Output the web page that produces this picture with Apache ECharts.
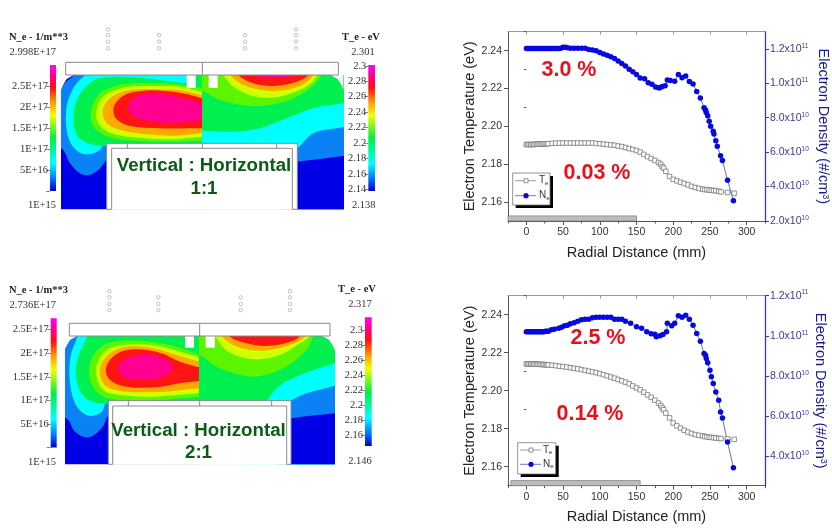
<!DOCTYPE html>
<html><head><meta charset="utf-8">
<style>html,body{margin:0;padding:0;background:#fff}#c{width:832px;height:531px}</style>
<script src="https://cdn.jsdelivr.net/npm/echarts@6/dist/echarts.min.js"></script>
</head><body><div id="c"></div>
<script>
// ---------- radial profile data (Ne in units of 1e10 /cm3) ----------
const xTicks=[0,50,100,150,200,250,300];
const xMinor=[-25,25,75,125,175,225,275,325];
const teTicks=[2.16,2.18,2.20,2.22,2.24];
const teMinor=[2.15,2.17,2.19,2.21,2.23,2.25];
const ne1Ticks=[20,40,60,80,100,120];
const ne2Ticks=[40,60,80,100,120];

const te1R=[0,2,4,6,8,10,12,14,16,18,20,22,24,26,28,30,35,40,45,50,55,60,65,70,75,80,85,90,95,100,105,110,115,120,125,130,135,140,145,150,155,160,165,170,175,180,183,185,187,190,195,200,205,210,215,220,225,230,235,240,243,246,249,252,255,258,262,265,274,283];
const te1V=[2.1904,2.1904,2.1904,2.1904,2.1904,2.1904,2.1906,2.1906,2.1906,2.1906,2.1906,2.1908,2.1908,2.1908,2.1908,2.1908,2.191,2.1911,2.1912,2.1912,2.1912,2.1912,2.1912,2.1912,2.1912,2.1912,2.1912,2.1912,2.191,2.1908,2.1906,2.1904,2.1902,2.19,2.1896,2.1893,2.1888,2.1883,2.1878,2.1872,2.1864,2.1852,2.184,2.183,2.182,2.1809,2.18,2.1787,2.1779,2.1762,2.1735,2.172,2.1712,2.1705,2.1698,2.1691,2.1683,2.1677,2.1672,2.1668,2.1666,2.1665,2.1664,2.1662,2.1661,2.166,2.1657,2.1654,2.1651,2.1647];
const ne1R=[0,2,4,6,8,10,12,14,16,18,20,22,24,26,28,30,32,34,36,38,40,42,44,47,50,53,56,60,65,70,75,80,85,90,95,100,105,110,115,120,125,130,135,140,145,150,155,161,166,171,176,180,182,185,189,192,196,202,207,212,217,222,227,232,237,242,244,245,247,249,251,254.5,255.5,258,260,264.5,267,274,282];
const ne1V=[120.2,120.2,120.2,120.2,120.2,120.2,120.2,120.2,120.2,120.2,120.2,120.2,120.2,120.2,120.2,120.2,120.2,120.2,120.2,120.2,120.2,120.2,120.2,120.4,121,121,120.7,120.4,120.4,120.4,120.4,120.4,119.6,119.4,118.9,117.9,117.1,116.3,115.5,114.4,113,111.5,110,108.2,106.8,105.2,103.1,102.7,100.4,99.4,97.9,97.5,97.5,98.1,98.6,101.9,101.6,101.2,105.2,103.3,104.3,101,99.6,95.3,91.5,85.8,84.5,83.1,81.2,78,75.1,72.2,70.5,66.6,63.5,57.9,55.1,43.7,31.8];

const te2R=[0,2,4,6,8,10,12,14,16,18,20,22,24,26,28,30,35,40,45,50,55,60,65,70,75,80,85,90,95,100,105,110,115,120,125,130,135,140,145,150,155,160,165,170,175,180,183,185,187,190,195,200,205,210,215,220,225,230,235,240,243,246,249,252,255,258,262,265,274,283];
const te2V=[2.2141,2.2141,2.2141,2.2141,2.214,2.214,2.214,2.2139,2.2139,2.2139,2.2138,2.2138,2.2137,2.2137,2.2136,2.2136,2.2134,2.2132,2.2129,2.2127,2.2124,2.2121,2.2118,2.2115,2.2111,2.2107,2.2103,2.2099,2.2095,2.209,2.2084,2.2078,2.2072,2.2066,2.2059,2.2052,2.2045,2.2036,2.2025,2.2015,2.2005,2.1992,2.1978,2.1965,2.195,2.1935,2.1922,2.191,2.19,2.1882,2.1857,2.183,2.1815,2.1803,2.1792,2.1782,2.1775,2.1769,2.1765,2.1762,2.1759,2.1757,2.1755,2.1754,2.1753,2.1751,2.1749,2.1748,2.1746,2.1744];
const ne2R=[0,2,4,6,8,10,12,14,16,18,20,22,24,26,28,30,34,38,44,48,52,56,60,65,70,75,80,85,90,95,100,105,110,115,120,125,130,135,142,150,157,164,170,175,177,182,186,191,192,198,202,207,212,217,222,227,232,237,242,244,245,247,250,252,254.5,258,262,264.5,267,274,282];
const ne2V=[102,102,102,102,102,102,102,102,102,102,102,102,102,102.3,102.3,102.3,103,103.3,103.7,104.3,105,105.3,106,106.5,107.3,108,108.2,108.2,109,109.2,109.2,109.2,109.2,109.2,108.3,108.2,108.2,107.2,106.2,104.5,103.7,102,101,100.8,99.5,100,100.7,102,106.2,105,106.2,110,109.3,110.3,108.2,105.3,101.2,97.3,91.2,90.3,88.7,86.5,82.8,79.5,76.2,72,67.8,62,59,47,34.2];
const heldMark1=[[12,2.1906]];
const heldMark2=[[12,2.214]];
const bar1=[[-25,150]];
const bar2=[[-21,155]];

// ---------- contour polygons, in the panel's own axis units ----------
const palette={navy:'#0000E6',azure:'#0A82F5',cyan:'#00FFFF',green:'#00F050',lime:'#5CF500',yellow:'#D2FF00',orange:'#FFA800',red:'#FF1414',pink:'#FF0090'};

const p1Left=[
 ['azure',[[190,150],[155,172],[130,195],[110,230],[100,370],[130,390],[150,430],[180,460],[205,466],[235,450],[255,425],[280,400],[620,380],[620,140]]],
 ['cyan',[[230,150],[190,170],[160,205],[140,260],[140,330],[155,375],[180,398],[205,403],[235,393],[265,365],[620,385],[620,180],[520,175],[500,140]]],
 ['green',[[260,172],[215,185],[175,230],[160,290],[170,345],[205,370],[270,380],[620,400],[620,140],[530,140],[510,185],[420,180],[340,172]]],
 ['lime',[[620,215],[547,205],[490,195],[420,190],[340,190],[280,200],[240,220],[218,255],[212,290],[225,325],[265,350],[340,362],[450,365],[547,362],[620,360]]],
 ['yellow',[[620,225],[547,215],[480,200],[400,198],[330,200],[280,212],[245,235],[230,270],[235,310],[270,338],[340,352],[450,358],[547,350],[620,348]]],
 ['orange',[[620,232],[547,225],[490,212],[420,208],[350,208],[295,220],[260,245],[248,275],[260,310],[300,330],[380,343],[470,347],[547,340],[620,338]]],
 ['red',[[620,250],[547,235],[500,222],[440,213],[370,212],[320,222],[290,245],[280,270],[290,298],[330,318],[420,325],[547,325],[620,325]]],
 ['pink',[[620,270],[547,250],[500,238],[450,225],[380,222],[340,235],[325,262],[335,285],[380,302],[450,308],[520,305],[547,300],[620,295]]]
];
const p1Right=[
 ['cyan',[[500,330],[547,332],[650,335],[720,325],[800,295],[880,265],[968,250],[1010,240],[1010,600],[500,600]]],
 ['azure',[[800,400],[832,385],[880,340],[968,322],[1010,315],[1010,600],[800,600]]],
 ['navy',[[800,430],[832,425],[968,408],[1010,400],[1010,600],[800,600]]],
 ['lime',[[500,200],[547,212],[600,240],[700,258],[800,243],[870,205],[905,165],[920,130],[500,120]]],
 ['yellow',[[590,130],[610,165],[640,200],[700,228],[770,232],[850,205],[890,170],[900,130]]],
 ['orange',[[610,130],[630,165],[670,195],[740,212],[820,205],[870,178],[890,130]]],
 ['red',[[640,130],[655,165],[700,190],[760,198],[830,185],[865,165],[875,130]]],
 ['pink',[[690,130],[700,165],[750,172],[810,168],[830,130]]]
];
const p2Left=[
 ['azure',[[100,385],[110,200],[150,180],[180,160],[620,140],[620,380],[285,385],[265,405],[245,445],[205,472],[165,455],[145,420]]],
 ['cyan',[[190,150],[165,190],[150,240],[150,310],[165,370],[190,400],[215,408],[245,395],[265,362],[620,380],[620,140]]],
 ['green',[[225,150],[185,205],[168,260],[175,320],[205,360],[265,372],[620,380],[620,140]]],
 ['lime',[[300,183],[250,195],[215,235],[208,285],[225,330],[265,355],[380,362],[539,350],[620,350],[620,250],[539,225],[470,200],[390,185]]],
 ['yellow',[[310,195],[260,210],[232,250],[230,290],[250,330],[300,345],[400,350],[539,340],[620,340],[620,250],[539,232],[480,215],[400,195]]],
 ['orange',[[320,200],[270,220],[245,250],[240,285],[260,320],[320,335],[430,335],[539,325],[620,325],[620,265],[539,245],[470,225],[400,205]]],
 ['red',[[340,208],[285,225],[258,265],[270,300],[320,320],[410,322],[480,310],[539,303],[620,300],[620,280],[539,262],[480,245],[420,218]]],
 ['pink',[[350,225],[310,240],[295,265],[310,290],[370,300],[430,290],[460,265],[440,240],[400,225]]]
];
const p2Right=[
 ['cyan',[[700,400],[740,362],[775,320],[830,290],[943,250],[1000,235],[1000,600],[700,600]]],
 ['azure',[[790,380],[813,362],[860,340],[943,318],[1000,305],[1000,600],[790,600]]],
 ['navy',[[790,420],[813,415],[943,400],[1000,395],[1000,600],[790,600]]],
 ['lime',[[480,200],[539,225],[600,265],[700,290],[790,265],[860,210],[880,168],[900,130],[480,120]]],
 ['yellow',[[570,130],[585,168],[625,215],[700,238],[780,225],[840,190],[870,168],[880,130]]],
 ['orange',[[590,130],[605,168],[650,200],[730,212],[810,195],[858,168],[870,130]]],
 ['red',[[615,130],[628,168],[680,190],[740,198],[810,185],[840,168],[850,130]]]
];
const p1Outline=[[62+63,165]];
const hw1={left:125,right:968,top:165,bottom:568,center:547,pedL:260,pedR:832,pedTop:370,pedIn:385,pedInL:275,pedInR:817,plateL:137,plateR:955,plateT:127,winA:[500,527],winB:[566,593],winBottom:204,ticks:[322,547,770],
 dots:[[264,28],[264,45],[264,65],[264,85],[417,45],[417,65],[417,85],[675,45],[675,65],[675,85],[828,28],[828,45],[828,65],[828,85]]};
const hw2={left:135,right:943,top:168,bottom:553,center:539,pedL:265,pedR:813,pedTop:362,pedIn:378,pedInL:278,pedInR:800,plateL:148,plateR:930,plateT:130,winA:[495,522],winB:[557,585],winBottom:203,ticks:[325,539,755],
 dots:[[268,33],[268,52],[268,72],[268,90],[415,52],[415,72],[415,90],[662,52],[662,72],[662,90],[810,33],[810,52],[810,72],[810,90]]};

const neBarTicks=[0.01,0.5,1,1.5,2,2.5];
const neBarLabels=['','5E+16','1E+17','1.5E+17','2E+17','2.5E+17'];
const teBar1Ticks=[2.14,2.16,2.18,2.2,2.22,2.24,2.26,2.28,2.3];
const teBar2Ticks=[2.16,2.18,2.2,2.22,2.24,2.26,2.28,2.3];

const SANS='"Liberation Sans",Arial,sans-serif', SERIF='"Liberation Serif",serif';
const AX='#555', RAX='#3A3AA0';
const grids=[],xAxes=[],yAxes=[],series=[],graphics=[];

function addGrid(l,t,w,h){grids.push({left:l,top:t,width:w,height:h,containLabel:false,show:false});return grids.length-1;}
function hiddenAxes(g,xr,yr){
  xAxes.push({gridIndex:g,type:'value',show:false,min:xr[0],max:xr[1]});
  yAxes.push({gridIndex:g,type:'value',show:false,inverse:true,min:yr[0],max:yr[1]});
  return [xAxes.length-1,yAxes.length-1];
}
function polyLayer(xi,yi,polys,base){
  series.push({type:'custom',xAxisIndex:xi,yAxisIndex:yi,clip:true,silent:true,data:polys.map((p,i)=>[i,i]),
    renderItem:(p,api)=>{const q=polys[p.dataIndex];
      return {type:'polygon',shape:{points:q[1].map(c=>api.coord(c)),smooth:q[2]===0?0:0.35},style:{fill:palette[q[0]]}};}});
}
function contour(ox,oy,hw,left,right,baseL,baseR){
  // left half
  let g=addGrid(ox+hw.left/3,oy+hw.top/3,(hw.center-hw.left)/3,(hw.bottom-hw.top)/3);
  let a=hiddenAxes(g,[hw.left,hw.center],[hw.top,hw.bottom]);
  polyLayer(a[0],a[1],[[baseL,[[0,0],[1200,0],[1200,700],[0,700]],0]].concat(left));
  // right half
  g=addGrid(ox+hw.center/3,oy+hw.top/3,(hw.right-hw.center)/3,(hw.bottom-hw.top)/3);
  a=hiddenAxes(g,[hw.center,hw.right],[hw.top,hw.bottom]);
  polyLayer(a[0],a[1],[[baseR,[[0,0],[1200,0],[1200,700],[0,700]],0]].concat(right));
  // masks and chamber hardware, over the whole panel
  g=addGrid(ox,oy,370,200);
  a=hiddenAxes(g,[0,1110],[0,600]);
  const L=hw.left,R=hw.right,T=hw.top,C=hw.center;
  const whites=[
   [[L-2,T-2],[L+40,T-2],[L+15,T+12],[L+3,T+32],[L-2,T+44]],
   [[R+2,T-2],[R-40,T-2],[R-15,T+12],[R-3,T+32],[R+2,T+44]],
   [[hw.pedL,hw.pedTop],[hw.pedR,hw.pedTop],[hw.pedR,hw.bottom+1],[hw.pedL,hw.bottom+1]],
   [[hw.winA[0],T-1],[hw.winA[1],T-1],[hw.winA[1],hw.winBottom],[hw.winA[0],hw.winBottom]],
   [[hw.winB[0],T-1],[hw.winB[1],T-1],[hw.winB[1],hw.winBottom],[hw.winB[0],hw.winBottom]],
   [[hw.plateL,hw.plateT],[hw.plateR,hw.plateT],[hw.plateR,T],[hw.plateL,T]]
  ];
  series.push({type:'custom',xAxisIndex:a[0],yAxisIndex:a[1],silent:true,data:whites.map((w,i)=>[i,i]),
    renderItem:(p,api)=>({type:'polygon',shape:{points:whites[p.dataIndex].map(c=>api.coord(c))},style:{fill:'#fff'}})});
  const lines=[
   [[hw.plateL,T],[hw.plateL,hw.plateT],[hw.plateR,hw.plateT],[hw.plateR,T],[hw.plateL,T]],
   [[C,hw.plateT],[C,T]],
   [[hw.pedL,hw.bottom],[hw.pedL,hw.pedTop],[hw.pedR,hw.pedTop],[hw.pedR,hw.bottom]],
   [[hw.pedInL,hw.bottom],[hw.pedInL,hw.pedIn],[hw.pedInR,hw.pedIn],[hw.pedInR,hw.bottom]],
   [[hw.pedL,hw.bottom],[hw.pedInL,hw.bottom]],[[hw.pedR,hw.bottom],[hw.pedInR,hw.bottom]]
  ].concat(hw.ticks.map(x=>[[x,hw.pedTop],[x,hw.pedIn]]));
  series.push({type:'custom',xAxisIndex:a[0],yAxisIndex:a[1],silent:true,data:lines.map((w,i)=>[i,i]),
    renderItem:(p,api)=>({type:'polyline',shape:{points:lines[p.dataIndex].map(c=>api.coord(c))},style:{fill:null,stroke:'#8a8a8a',lineWidth:1}})});
  series.push({type:'scatter',xAxisIndex:a[0],yAxisIndex:a[1],silent:true,data:hw.dots,symbolSize:3.5,
    itemStyle:{color:'#fff',borderColor:'#b5b5b5',borderWidth:1}});
}
function colorBar(l,t,w,h,min,max,ticks,labelFn){
  const g=addGrid(l,t,w,h);
  xAxes.push({gridIndex:g,type:'value',show:false,min:0,max:1});
  yAxes.push({gridIndex:g,type:'value',min:min,max:max,position:'left',
    axisLine:{show:false},splitLine:{show:false},
    axisTick:{show:true,length:4,inside:false,customValues:ticks,lineStyle:{color:'#888'}},
    axisLabel:{show:true,customValues:ticks,formatter:labelFn,margin:2,color:'#333',fontFamily:SERIF,fontSize:10.5,showMinLabel:true,showMaxLabel:true,hideOverlap:false}});
  const xi=xAxes.length-1,yi=yAxes.length-1;
  series.push({type:'custom',xAxisIndex:xi,yAxisIndex:yi,silent:true,data:[[min,max]],
    renderItem:(p,api)=>{const a=api.coord([0,max]),b=api.coord([1,min]);
      return {type:'rect',shape:{x:a[0],y:a[1],width:b[0]-a[0],height:b[1]-a[1]},
       style:{fill:new echarts.graphic.LinearGradient(0,0,0,1,[
        {offset:0,color:'#FF00FF'},{offset:.08,color:'#FF0090'},{offset:.18,color:'#FF1010'},{offset:.3,color:'#FFA000'},
        {offset:.4,color:'#F0FF00'},{offset:.58,color:'#00F040'},{offset:.78,color:'#00FFFF'},{offset:.92,color:'#0060FF'},{offset:1,color:'#0000C8'}])}};}});
}
function txt(x,y,text,o){graphics.push({type:'text',x:x,y:y,z:100,silent:true,style:Object.assign({text:text,fontFamily:SANS,textVerticalAlign:'middle',verticalAlign:'middle',fill:'#333'},o||{})});}
function neLabel(v){const e=v>=100?11:10,m=(v>=100?v/100:v/10).toFixed(1);return '{m|'+m+'x10}{e|'+e+'}';}
function plot(t,h,ne,te,neMax,neMin,neT,mark,bar,nameGap,rightName){
  const g=addGrid(508,t,257,h);
  const base=xAxes.length, ybase=yAxes.length;
  const lbl={color:'#333',fontFamily:SANS,fontSize:10.5};
  xAxes.push({gridIndex:g,type:'value',min:-25,max:325,position:'bottom',name:'Radial Distance (mm)',nameLocation:'middle',nameGap:24,
    nameTextStyle:{fontFamily:SANS,fontSize:14.5,color:'#222'},
    axisLine:{show:true,onZero:false,lineStyle:{color:AX}},splitLine:{show:false},
    axisTick:{show:true,length:4,customValues:xTicks,lineStyle:{color:AX}},
    axisLabel:Object.assign({customValues:xTicks,margin:6},lbl)});
  xAxes.push({gridIndex:g,type:'value',min:-25,max:325,position:'bottom',axisLine:{show:false},splitLine:{show:false},axisLabel:{show:false},
    axisTick:{show:true,length:2.5,customValues:xMinor,lineStyle:{color:AX}}});
  xAxes.push({gridIndex:g,type:'value',min:-25,max:325,position:'top',axisLine:{show:true,onZero:false,lineStyle:{color:'#999'}},splitLine:{show:false},axisLabel:{show:false},
    axisTick:{show:true,inside:true,length:3,customValues:xTicks,lineStyle:{color:'#999'}}});
  yAxes.push({gridIndex:g,type:'value',min:2.15,max:2.25,position:'left',name:'Electron Temperature (eV)',nameLocation:'middle',nameGap:31,
    nameTextStyle:{fontFamily:SANS,fontSize:14.5,color:'#222'},
    axisLine:{show:true,onZero:false,lineStyle:{color:AX}},splitLine:{show:false},
    axisTick:{show:true,length:4,customValues:teTicks,lineStyle:{color:AX}},
    axisLabel:Object.assign({customValues:teTicks,margin:6,formatter:v=>v.toFixed(2)},lbl)});
  yAxes.push({gridIndex:g,type:'value',min:2.15,max:2.25,position:'left',axisLine:{show:false},splitLine:{show:false},axisLabel:{show:false},
    axisTick:{show:true,length:2.5,customValues:teMinor,lineStyle:{color:AX}}});
  yAxes.push({gridIndex:g,type:'value',min:neMin,max:neMax,position:'right',name:rightName,nameLocation:'middle',nameRotate:-90,nameGap:nameGap,
    nameTextStyle:{fontFamily:SANS,fontSize:14.5,color:'#1a1a90',rich:{s:{fontSize:9,verticalAlign:'bottom',color:'#1a1a90',fontFamily:SANS,padding:[0,0,6,0]}}},
    axisLine:{show:true,onZero:false,lineStyle:{color:RAX,width:1.3}},splitLine:{show:false},
    axisTick:{show:true,length:4,customValues:neT,lineStyle:{color:RAX}},
    axisLabel:{customValues:neT,margin:5,formatter:neLabel,rich:{m:{fontFamily:SANS,fontSize:10.5,color:RAX},e:{fontFamily:SANS,fontSize:6.5,color:RAX,padding:[0,0,6,0]}}}});
  const xi=base,yT=ybase,yN=ybase+2;
  series.push({type:'custom',xAxisIndex:xi,yAxisIndex:yT,silent:true,data:bar,
    renderItem:(p,api)=>{const a=api.coord([bar[0][0],2.1527]),b=api.coord([bar[0][1],2.15]);
      return {type:'rect',shape:{x:a[0],y:a[1],width:b[0]-a[0],height:b[1]-a[1]},style:{fill:'#bdbdbd',stroke:'#777',lineWidth:.7}};}});
  series.push({type:'line',name:'Te',xAxisIndex:xi,yAxisIndex:yT,silent:true,showAllSymbol:true,symbol:'rect',symbolSize:4.5,
    data:te[0].map((r,i)=>[r,te[1][i]]),lineStyle:{color:'#999',width:.7},itemStyle:{color:'#fff',borderColor:'#777',borderWidth:.8}});
  series.push({type:'scatter',xAxisIndex:xi,yAxisIndex:yT,silent:true,symbol:'rect',symbolSize:3.5,data:mark,itemStyle:{color:'#111'}});
  series.push({type:'line',name:'Ne',xAxisIndex:xi,yAxisIndex:yN,silent:true,showAllSymbol:true,symbol:'circle',symbolSize:5.5,
    data:ne[0].map((r,i)=>[r,ne[1][i]]),lineStyle:{color:'#4848B8',width:.8},itemStyle:{color:'#0808E0'}});
}
function legendBox(x,y,w,h,r1,r2,lx,tx,mx){
  graphics.push({type:'rect',z:90,silent:true,shape:{x:x+3,y:y+3,width:w,height:h},style:{fill:'#000'}});
  graphics.push({type:'rect',z:91,silent:true,shape:{x:x,y:y,width:w,height:h},style:{fill:'#fff',stroke:'#777',lineWidth:.8}});
  graphics.push({type:'line',z:92,silent:true,shape:{x1:lx,y1:r1,x2:lx+21,y2:r1},style:{stroke:'#888',lineWidth:.8}});
  graphics.push({type:'line',z:92,silent:true,shape:{x1:lx,y1:r2,x2:lx+21,y2:r2},style:{stroke:'#5050B0',lineWidth:.8}});
  graphics.push({type:'rect',z:93,silent:true,shape:{x:mx-2,y:r1-2,width:4,height:4},style:{fill:'#fff',stroke:'#777',lineWidth:.8}});
  graphics.push({type:'circle',z:93,silent:true,shape:{cx:mx,cy:r2,r:2.6},style:{fill:'#0808E0'}});
  const rich={a:{fontFamily:SANS,fontSize:10,fill:'#333',color:'#333'},b:{fontFamily:SANS,fontSize:6,color:'#333',padding:[5,0,0,0]}};
  txt(tx,r1,'{a|T}{b|e}',{rich:rich});
  txt(tx,r2,'{a|N}{b|e}',{rich:rich});
}

// ---------- build panels ----------
contour(20,20,hw1,p1Left,p1Right,'navy','green');
contour(20,280,hw2,p2Left,p2Right,'navy','green');
const neLab=v=>neBarLabels[neBarTicks.indexOf(v)]||'';
colorBar(50,65,6,126,0.01,2.998,neBarTicks,neLab);
colorBar(368.3,65,6.7,126,2.138,2.301,teBar1Ticks,v=>String(v));
colorBar(50.7,318.3,6,129.3,0.01,2.736,neBarTicks,neLab);
colorBar(365,317.3,6.7,128.7,2.146,2.317,teBar2Ticks,v=>String(v));
plot(31.7,189.3,[ne1R,ne1V],[te1R,te1V],130,20,ne1Ticks,heldMark1,bar1,50,'Electron Density (#/cm{s|3})');
plot(295.7,190,[ne2R,ne2V],[te2R,te2V],120,25.2,ne2Ticks,heldMark2,bar2,44,'Electron Density (#/cm{s|3})');

const B={fontFamily:SERIF,fontWeight:'bold',fontSize:10.5,fill:'#222'}, S={fontFamily:SERIF,fontSize:10.5,fill:'#333'};
txt(9,37,'N_e - 1/m**3',B); txt(56,52,'2.998E+17',Object.assign({textAlign:'right',align:'right'},S)); txt(56,205,'1E+15',Object.assign({textAlign:'right',align:'right'},S));
txt(361,37,'T_e - eV',Object.assign({textAlign:'center',align:'center'},B)); txt(363,52,'2.301',Object.assign({textAlign:'center',align:'center'},S)); txt(363.7,205,'2.138',Object.assign({textAlign:'center',align:'center'},S));
txt(9,290.7,'N_e - 1/m**3',B); txt(56,305.7,'2.736E+17',Object.assign({textAlign:'right',align:'right'},S)); txt(56,462,'1E+15',Object.assign({textAlign:'right',align:'right'},S));
txt(357,289,'T_e - eV',Object.assign({textAlign:'center',align:'center'},B)); txt(360,304,'2.317',Object.assign({textAlign:'center',align:'center'},S)); txt(360,461,'2.146',Object.assign({textAlign:'center',align:'center'},S));
const G={fontFamily:SANS,fontWeight:'bold',fontSize:18.7,fill:'#0A5C14',textAlign:'center',align:'center'};
txt(204,165.7,'Vertical : Horizontal',G); txt(204,189,'1:1',G);
txt(198.5,430.7,'Vertical : Horizontal',G); txt(198.5,453.3,'2:1',G);
const R={fontFamily:SANS,fontWeight:'bold',fontSize:21.5,fill:'#E8101A',textAlign:'center',align:'center'};
txt(569,70,'3.0 %',R); txt(597,172.7,'0.03 %',R); txt(598,338,'2.5 %',R); txt(590,414,'0.14 %',R);
legendBox(512.7,173,37.3,32,180.7,195.7,515,539,526);
legendBox(517.7,442.7,38,31.3,450,464.3,520,543,531);

echarts.init(document.getElementById('c'),null,{renderer:'canvas'}).setOption({
  animation:false,backgroundColor:'#fff',grid:grids,xAxis:xAxes,yAxis:yAxes,series:series,graphic:{elements:graphics}
});
</script></body></html>
